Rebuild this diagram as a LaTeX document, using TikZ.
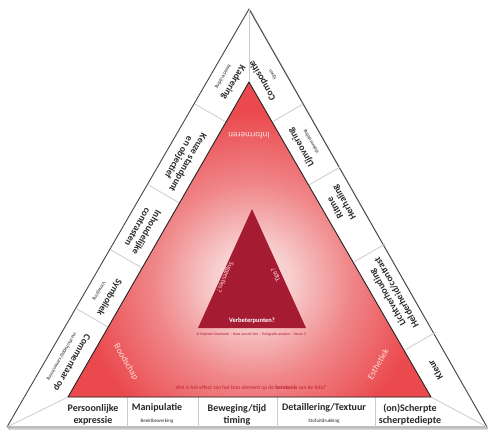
\documentclass[tikz,border=0pt]{standalone}
\usepackage{fontspec}
\setmainfont{Carlito}
\usetikzlibrary{calc}
\definecolor{redc}{RGB}{234,74,78}
\definecolor{darkc}{RGB}{165,27,50}
\definecolor{ringline}{RGB}{205,205,205}
\definecolor{edgec}{RGB}{70,70,70}
\definecolor{labc}{RGB}{40,40,40}
\definecolor{pinklab}{RGB}{253,220,220}
\definecolor{smallred}{RGB}{185,35,45}
\pgfdeclareradialshading{glow}{\pgfpoint{0bp}{0bp}}{rgb(0bp)=(0.99,0.92,0.92);rgb(4bp)=(0.97,0.80,0.80);rgb(10bp)=(0.94,0.52,0.53);rgb(17bp)=(0.918,0.29,0.306);rgb(50bp)=(0.918,0.29,0.306)}
\newcommand{\smtxt}[1]{{\fontsize{5}{6}\selectfont\mdseries #1}}
\begin{document}
\begin{tikzpicture}[x=1pt,y=-1pt,
  lab/.style={font=\fontsize{9.5}{10.5}\selectfont\bfseries, text=labc, align=center, inner sep=0pt},
  blab/.style={font=\fontsize{10}{12}\selectfont\bfseries, text=labc, align=center, inner sep=0pt},
  rlab/.style={font=\fontsize{9}{10}\selectfont, text=pinklab, inner sep=0pt},
  dlab/.style={font=\fontsize{7}{8}\selectfont, text=pinklab, inner sep=0pt},
  divider/.style={draw=ringline, line width=0.8pt}]
\useasboundingbox (0,0) rectangle (488,432);
% corners
\coordinate (A) at (249,9);
\coordinate (BL) at (7,427);
\coordinate (BR) at (487,427);
\coordinate (IA) at (249,82);
\coordinate (IL) at (68,397);
\coordinate (IR) at (431,397);
\coordinate (DA) at (252,209);
\coordinate (DL) at (198,328);
\coordinate (DR) at (306,328);
% outer triangle with shadow
\draw[gray!45, line width=1.6pt, line join=round] ($(A)+(1.2,1.5)$) -- ($(BR)+(0.5,1.8)$) -- ($(BL)+(1.5,1.8)$) -- cycle;
\filldraw[fill=white, draw=edgec, line width=0.9pt, line join=round] (A) -- (BR) -- (BL) -- cycle;
% corner dividers
\draw[divider] (A) -- (IA);
\draw[divider] (BL) -- (IL);
\draw[divider] (BR) -- (IR);
% left band dividers (inner point -> outer point)
\draw[divider] (226,122) -- (195,104);
\draw[divider] (179.5,203) -- (148.5,185);
\draw[divider] (142,268) -- (111,250);
\draw[divider] (108,327) -- (77,309);
% right band dividers
\draw[divider] (272,122) -- (303,104);
\draw[divider] (309,185) -- (340,167);
\draw[divider] (354,262) -- (385,244);
\draw[divider] (405,350) -- (436,332);
% bottom band dividers
\draw[divider] (127,397) -- (127,427);
\draw[divider] (198,397) -- (198,427);
\draw[divider] (277,397) -- (277,427);
\draw[divider] (375,397) -- (375,427);
% red triangle with glow
\fill[redc] (IA) -- (IR) -- (IL) -- cycle;
\begin{scope}
  \clip (IA) -- (IR) -- (IL) -- cycle;
  \shade[shading=glow] (252,282) circle (250);
\end{scope}
\draw[black!85, line width=0.9pt, line join=round] (IA) -- (IR) -- (IL) -- cycle;
% dark triangle
\fill[darkc] (DA) -- (DR) -- (DL) -- cycle;
% left band labels
\node[lab, rotate=-120] (l1) at (229,80) {Kadrering\\\smtxt{beeldsnijding}};
\node[lab, rotate=-120] (l2) at (183,160) {Keuze standpunt\\en objectief};
\node[lab, rotate=-120] (l3) at (142.5,230) {Inhoudelijke\\contrasten};
\node[lab, rotate=-120] (l4) at (105,295) {Symboliek\\\smtxt{Verwijzing}};
\node[lab, rotate=-120] (l5) at (67.4,360) {Commentaar op\\\smtxt{maatschappij/samenleving}};
% right band labels
\node[lab, rotate=120] (r1) at (266.7,78) {Compositie\\\smtxt{lijnen}};
\node[lab, rotate=120] (r2) at (305.4,145) {Lijnvoering\\\smtxt{Vlakverdeling}};
\node[lab, rotate=120] (r3) at (340,205) {Ritme\\Herhaling};
\node[lab, rotate=120] (r4) at (392,295) {Lichtverhouding\\Helderheid/contrast};
\node[lab, rotate=120] (r5) at (435.3,370) {Kleur};
% bottom band labels
\node[blab] (b1) at (93,415) {Persoonlijke\\expressie};
\node[blab] (b2) at (157,413) {Manipulatie\\\smtxt{Beeldbewerking}};
\node[blab] (b3) at (237,415) {Beweging/tijd\\timing};
\node[blab] (b4) at (324,413) {Detaillering/Textuur\\\smtxt{Stofuitdrukking}};
\node[blab] (b5) at (410,415) {(on)Scherpte\\scherptediepte};
% red triangle labels
\node[rlab, rotate=180] (inf) at (249,136) {Informeren};
\node[rlab, rotate=-60] (boo) at (126,362) {Boodschap};
\node[rlab, rotate=60] (est) at (378,364) {Esthetiek};
\node[font=\fontsize{5.5}{6}\selectfont, text=smallred, inner sep=0pt] (q) at (251,388) {Wat is het effect van het foto element op de \textbf{betekenis} van de foto?};
% dark triangle labels
\node[dlab, rotate=-114] (sug) at (225,277) {Suggesties?};
\node[dlab, rotate=114] (tip) at (276,275) {Tips?};
\node[font=\fontsize{6.5}{7}\selectfont\bfseries, text=white, inner sep=0pt] (ver) at (252,321) {Verbeterpunten?};
\node[font=\fontsize{3.8}{4}\selectfont, text=darkc, inner sep=0pt] (copy) at (251,335) {© Marleen Overbeek – Hans van de Ven – Fotografie analyse – Versie 3};
\end{tikzpicture}
\end{document}
